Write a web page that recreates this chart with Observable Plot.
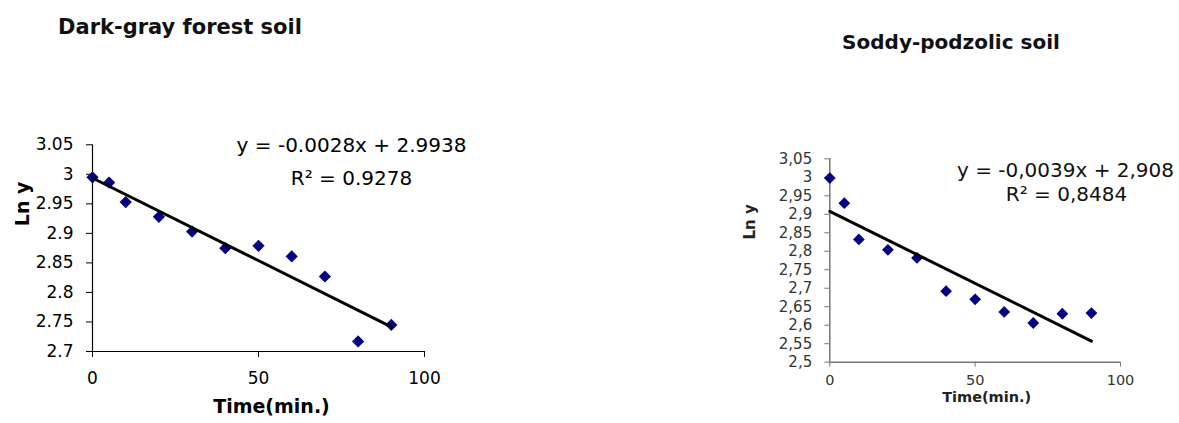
<!DOCTYPE html>
<html>
<head>
<meta charset="utf-8">
<script src="https://cdn.jsdelivr.net/npm/d3@7"></script>
<script src="https://cdn.jsdelivr.net/npm/@observablehq/plot@0.6"></script>
<style>
  html, body { margin: 0; padding: 0; background: #fff; }
  #wrap { position: relative; width: 1179px; height: 423px; overflow: hidden; background: #fff; }
  .panel { position: absolute; top: 0; }
  .title { position: absolute; font-family: "DejaVu Sans", sans-serif; font-weight: bold; white-space: nowrap; transform: translateX(-50%); }
</style>
</head>
<body>
<div id="wrap">
  <div class="title" id="t1" style="left:180px; top:17px; font-size:21px; line-height:21px; color:#111;"></div>
  <div class="title" id="t2" style="left:951px; top:32px; font-size:20px; line-height:20px; color:#111;"></div>
  <div class="panel" id="p1" style="left:0px;"></div>
  <div class="panel" id="p2" style="left:560px;"></div>
</div>
<script>
// ---- data ----
const timeMin = [0, 5, 10, 20, 30, 40, 50, 60, 70, 80, 90];
const lnyDarkGray = [2.995, 2.986, 2.953, 2.928, 2.903, 2.875, 2.879, 2.861, 2.827, 2.717, 2.745];
const lnySoddy = [2.998, 2.930, 2.832, 2.804, 2.782, 2.692, 2.670, 2.636, 2.606, 2.631, 2.633];
const fitDarkGray = [-0.0028, 2.9938]; // slope, intercept
const fitSoddy = [-0.0039, 2.908];
const fitRange = [0, 90];
const xTicks = [0, 50, 100];
const yTicksDarkGray = [2.7, 2.75, 2.8, 2.85, 2.9, 2.95, 3, 3.05];
const yTicksSoddy = [2.5, 2.55, 2.6, 2.65, 2.7, 2.75, 2.8, 2.85, 2.9, 2.95, 3, 3.05];
const titles = ["Dark-gray forest soil", "Soddy-podzolic soil"];
const eqDarkGray = ["y = -0.0028x + 2.9938", "R\u00B2 = 0.9278"];
const eqSoddy = ["y = -0,0039x + 2,908", "R\u00B2 = 0,8484"];
const xLabel = "Time(min.)";
const yLabel = "Ln y";

document.getElementById("t1").textContent = titles[0];
document.getElementById("t2").textContent = titles[1];

const ptsDark = timeMin.map((t, i) => ({t, v: lnyDarkGray[i]}));
const ptsSoddy = timeMin.map((t, i) => ({t, v: lnySoddy[i]}));
const trend = (fit) => fitRange.map(t => ({t, v: fit[0] * t + fit[1]}));

const F = "DejaVu Sans, sans-serif";

// ---- left panel ----
const left = Plot.plot({
  width: 560, height: 423,
  marginLeft: 92, marginRight: 136, marginTop: 144.3, marginBottom: 72,
  style: {fontFamily: F, fontSize: "17px", color: "#000", background: "transparent", overflow: "visible"},
  x: {domain: [0, 100]},
  y: {domain: [2.7, 3.05]},
  marks: [
    Plot.axisY({ticks: yTicksDarkGray, tickSize: 6, tickPadding: 13, tickFormat: d => String(d), label: null, color: "#000", fontSize: 17}),
    Plot.axisX({ticks: xTicks, tickSize: 6, tickPadding: 14, label: null, color: "#000", fontSize: 17}),
    Plot.ruleX([0], {stroke: "#000", strokeWidth: 1.2}),
    Plot.ruleY([2.7], {stroke: "#000", strokeWidth: 1.2}),
    Plot.dot(ptsDark, {x: "t", y: "v", symbol: "diamond2", r: 5.5, fill: "#000080", stroke: "none"}),
    Plot.line(trend(fitDarkGray), {x: "t", y: "v", stroke: "#000", strokeWidth: 3}),
    Plot.text([eqDarkGray[0]], {frameAnchor: "top-right", dx: -73, dy: -6.6, text: d => d, fontSize: 20, fill: "#000", textAnchor: "middle"}),
    Plot.text([eqDarkGray[1]], {frameAnchor: "top-right", dx: -73, dy: 26.2, text: d => d, fontSize: 20, fill: "#000", textAnchor: "middle"}),
    Plot.text([xLabel], {frameAnchor: "bottom", dx: 13, dy: 61, text: d => d, fontSize: 19, fontWeight: "bold", fill: "#000"}),
    Plot.text([yLabel], {frameAnchor: "left", dx: -70, dy: -22, rotate: -90, text: d => d, fontSize: 19, fontWeight: "bold", fill: "#000"})
  ]
});
document.getElementById("p1").appendChild(left);

// ---- right panel ----
const right = Plot.plot({
  width: 619, height: 423,
  marginLeft: 269.3, marginRight: 59, marginTop: 158.3, marginBottom: 61.3,
  style: {fontFamily: F, fontSize: "15px", color: "#333", background: "transparent", overflow: "visible"},
  x: {domain: [0, 100]},
  y: {domain: [2.5, 3.05]},
  marks: [
    Plot.axisY({ticks: yTicksSoddy, tickSize: 5, tickPadding: 12.6, tickFormat: d => String(d).replace(".", ","), label: null, stroke: "#777", fill: "#333", fontSize: 15}),
    Plot.axisX({ticks: xTicks, tickSize: 5, tickPadding: 8, label: null, stroke: "#777", fill: "#333", fontSize: 14.5}),
    Plot.ruleX([0], {stroke: "#777", strokeWidth: 1.5}),
    Plot.ruleY([2.5], {stroke: "#777", strokeWidth: 1.5}),
    Plot.dot(ptsSoddy, {x: "t", y: "v", symbol: "diamond2", r: 5.3, fill: "#000080", stroke: "none"}),
    Plot.line(trend(fitSoddy), {x: "t", y: "v", stroke: "#000", strokeWidth: 3}),
    Plot.text([eqSoddy[0]], {frameAnchor: "top-right", dx: -55, dy: 3.7, text: d => d, fontSize: 20, fill: "#111", textAnchor: "middle"}),
    Plot.text([eqSoddy[1]], {frameAnchor: "top-right", dx: -54, dy: 27.7, text: d => d, fontSize: 20, fill: "#111", textAnchor: "middle"}),
    Plot.text([xLabel], {frameAnchor: "bottom", dx: 11.5, dy: 40, text: d => d, fontSize: 14.5, fontWeight: "bold", fill: "#222"}),
    Plot.text([yLabel], {frameAnchor: "left", dx: -79.3, dy: -21, rotate: -90, text: d => d, fontSize: 15, fontWeight: "bold", fill: "#222"})
  ]
});
document.getElementById("p2").appendChild(right);
</script>
</body>
</html>
